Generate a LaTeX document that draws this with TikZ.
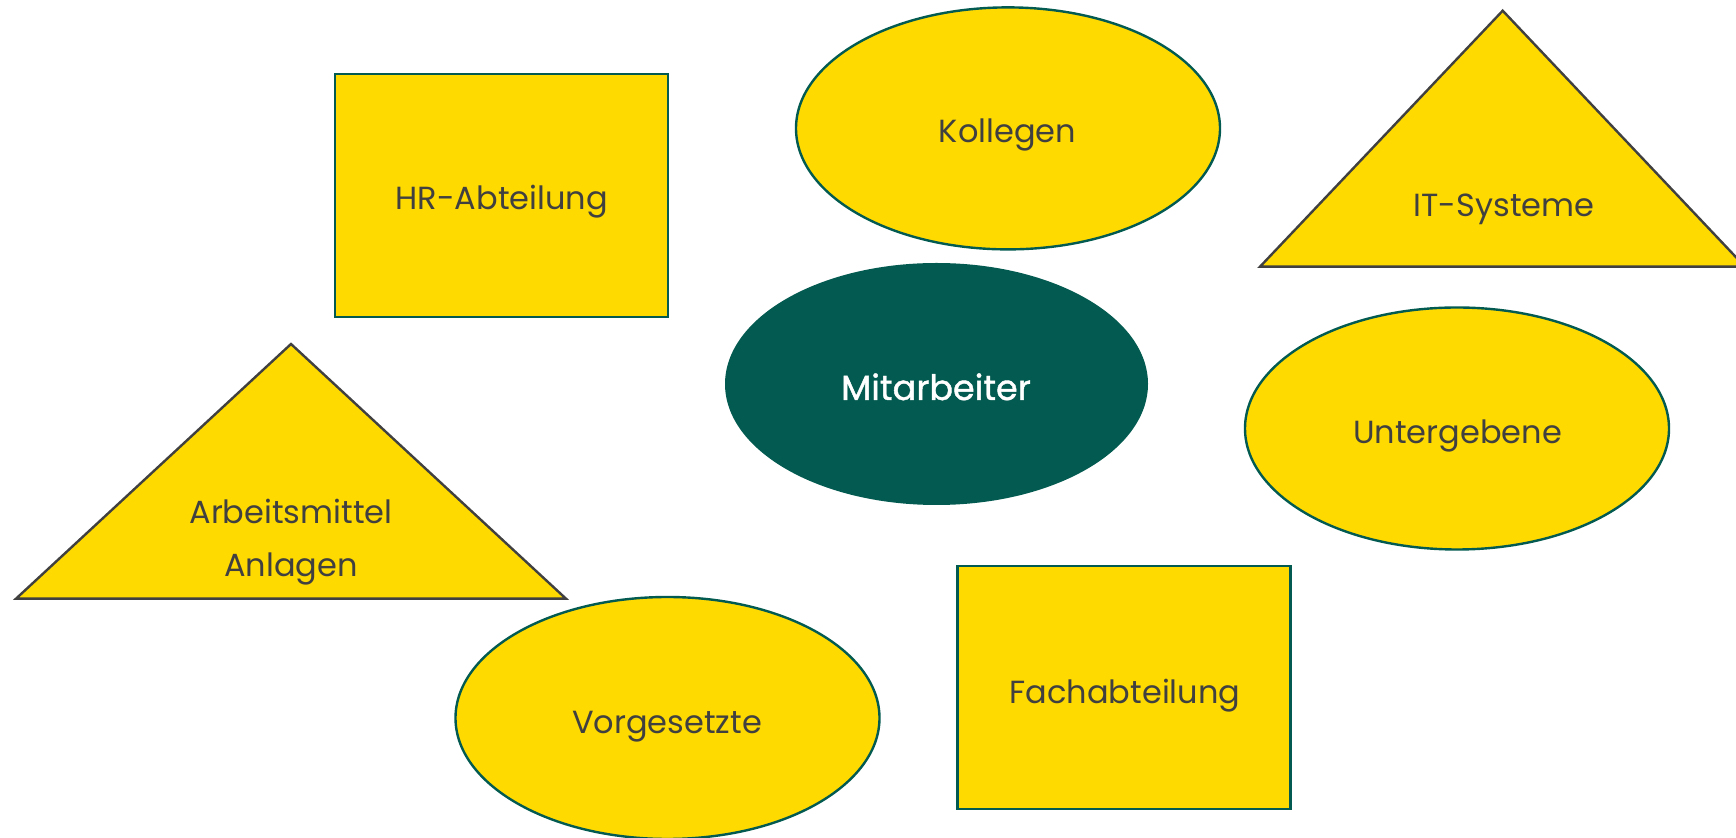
\documentclass[tikz,border=0pt]{standalone}
\usepackage{fontspec}
\setmainfont{Poppins}
\newfontfamily\mitfont{Poppins}[FakeBold=1.2]
\usetikzlibrary{shapes.geometric}
\definecolor{yel}{HTML}{FFDA00}
\definecolor{dgreen}{HTML}{035A50}
\definecolor{tgray}{HTML}{404040}
\begin{document}
\begin{tikzpicture}[x=0.5pt,y=-0.5pt,
  lbl/.style={text=tgray, font=\fontsize{16}{20}\selectfont, anchor=base, inner sep=0pt},
  ell/.style={ellipse, draw=dgreen, fill=yel, line width=1.2pt, minimum width=212pt, minimum height=121pt, inner sep=0pt},
  box/.style={rectangle, draw=dgreen, fill=yel, line width=1.2pt, minimum width=166.5pt, minimum height=121.5pt, inner sep=0pt},
  tri/.style={draw=tgray, fill=yel, line width=1.2pt, line join=miter}]
\useasboundingbox (0,0) rectangle (1736,838);
\clip (0,0) rectangle (1736,838);
% rectangles
\node[box] (hr) at (501.5,195.5) {};
\node[box] (fach) at (1124,687.5) {};
% ellipses
\node[ell] (koll) at (1008,128.4) {};
\node[ell] (unter) at (1457,428.5) {};
\node[ell] (vorg) at (667.5,718) {};
\node[ellipse, fill=dgreen, minimum width=211.5pt, minimum height=121pt, inner sep=0pt] (mit) at (936.5,384) {};
% triangles
\draw[tri] (1260,266.7) -- (1502.7,10.7) -- (1745,266.7) -- cycle;
\draw[tri] (16,598.7) -- (291,344) -- (566,598.7) -- cycle;
% labels
\node[lbl] (thr) at (501.7,209.3) {HR-Abteilung};
\node[lbl] (tkoll) at (1007.5,142.3) {Kollegen};
\node[lbl] (tit) at (1504,216.7) {IT-Systeme};
\node[lbl] (tarb1) at (291,523.3) {Arbeitsmittel};
\node[lbl] (tarb2) at (291,576.7) {Anlagen};
\node[lbl, text=white, font=\fontsize{17.5}{20}\mitfont] (tmit) at (936,400) {Mitarbeiter};
\node[lbl] (tunter) at (1457.5,443.3) {Untergebene};
\node[lbl] (tvorg) at (667,733.3) {Vorgesetzte};
\node[lbl] (tfach) at (1125,703.3) {Fachabteilung};
\end{tikzpicture}
\end{document}
